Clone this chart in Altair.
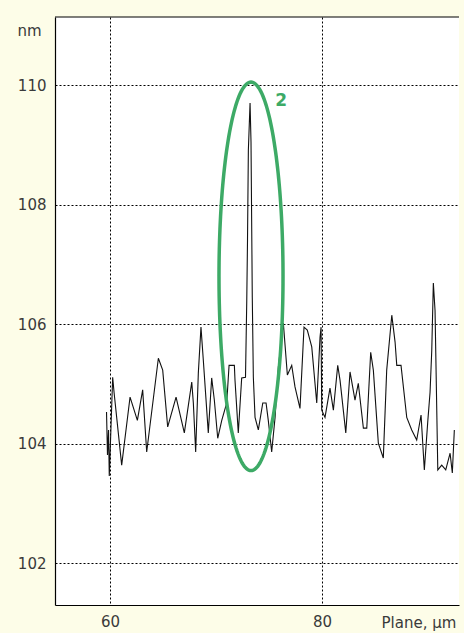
import altair as alt
import numpy as np
import pandas as pd

# Surface profile along the scan line
plane_um = [
    59.67, 59.76, 59.86, 59.93, 60.05, 60.25, 60.38, 61.10, 61.89, 62.58,
    63.08, 63.46, 64.56, 64.97, 65.44, 66.23, 67.01, 67.71, 67.86, 68.08,
    68.33, 68.58, 68.80, 69.27, 69.59, 69.84, 70.16, 70.54, 71.01, 71.23,
    71.73, 71.79, 72.10, 72.42, 72.78, 72.90, 72.97, 73.05, 73.21, 73.30,
    73.42, 73.52, 73.68, 73.99, 74.41, 74.72, 74.93, 75.25, 75.57, 75.88,
    76.35, 76.73, 77.14, 77.45, 77.92, 78.30, 78.61, 79.03, 79.50, 79.81,
    79.91, 79.97, 80.28, 80.75, 81.07, 81.48, 81.70, 82.24, 82.64, 83.11,
    83.42, 83.90, 84.22, 84.59, 84.84, 85.31, 85.78, 86.10, 86.58, 86.89,
    87.05, 87.45, 87.99, 88.46, 88.93, 89.34, 89.65, 89.97, 90.19, 90.35,
    90.50, 90.66, 90.92, 91.29, 91.67, 92.08, 92.29, 92.48,
]
height_nm = [
    104.53, 103.81, 104.23, 103.46, 104.06, 105.11, 104.86, 103.64, 104.78, 104.39,
    104.90, 103.86, 105.43, 105.23, 104.28, 104.78, 104.18, 105.03, 104.68, 103.86,
    105.18, 105.95, 105.40, 104.18, 105.10, 104.73, 104.09, 104.39, 104.68, 105.31,
    105.31, 105.06, 104.18, 105.10, 105.11, 106.40, 107.41, 108.91, 109.70, 109.05,
    106.45, 105.11, 104.44, 104.23, 104.68, 104.68, 104.39, 103.86, 104.44, 105.28,
    106.02, 105.15, 105.31, 104.95, 104.59, 105.95, 105.90, 105.62, 104.68, 105.78,
    105.95, 104.56, 104.44, 104.93, 104.56, 105.31, 105.06, 104.18, 105.20, 104.73,
    105.01, 104.26, 104.26, 105.53, 105.23, 104.01, 103.76, 105.23, 106.15, 105.70,
    105.31, 105.31, 104.44, 104.23, 104.06, 104.48, 103.56, 104.36, 104.86, 105.56,
    106.69, 106.23, 103.56, 103.64, 103.56, 103.84, 103.51, 104.23,
]

x_ticks = [60, 80]
y_ticks = [102, 104, 106, 108, 110]
x_domain = [54.81, 92.92]
y_domain = [101.30, 111.14]

# Highlight ellipse around feature "2"
ell_cx, ell_cy, ell_rx, ell_ry = 73.30, 106.80, 3.02, 3.25
ell_label = "2"
ell_label_pos = (76.15, 109.73)

W, H = 404, 588
FONT = "DejaVu Sans"
TEXT = "#3a3a3a"
GREEN = "#3daa66"

profile = pd.DataFrame({"x": plane_um, "y": height_nm})
t = np.linspace(0, 2 * np.pi, 181)
ellipse = pd.DataFrame({
    "x": ell_cx + ell_rx * np.cos(t),
    "y": ell_cy + ell_ry * np.sin(t),
    "i": np.arange(len(t)),
})

xs = alt.Scale(domain=x_domain, nice=False, zero=False)
ys = alt.Scale(domain=y_domain, nice=False, zero=False)

x_axis = alt.Axis(
    values=x_ticks, format="d", grid=True, gridColor="black", gridDash=[2, 2],
    gridWidth=1, domainColor="black", domainWidth=1.2, ticks=False, labelPadding=9,
    labelFont=FONT, labelFontSize=15, labelColor=TEXT,
    title="Plane, µm", titleFont=FONT, titleFontSize=15, titleFontWeight="normal",
    titleColor=TEXT, titleAlign="left", titleBaseline="middle",
    titleAnchor="start", titleX=326, titleY=17,
)
y_axis = alt.Axis(
    values=y_ticks, format="d", grid=True, gridColor="black", gridDash=[2, 2],
    gridWidth=1, domainColor="black", domainWidth=1.2, ticks=False, labelPadding=9,
    labelFont=FONT, labelFontSize=15, labelColor=TEXT,
    title="nm", titleFont=FONT, titleFontSize=15, titleFontWeight="normal",
    titleColor=TEXT, titleAngle=0, titleAlign="left", titleBaseline="middle",
    titleX=-38, titleY=13,
)

line = alt.Chart(profile).mark_line(color="#111111", strokeWidth=1.1).encode(
    x=alt.X("x:Q", scale=xs, axis=x_axis),
    y=alt.Y("y:Q", scale=ys, axis=y_axis),
)

top_border = alt.Chart(pd.DataFrame({"y": [y_domain[1]]})).mark_rule(
    color="black", strokeWidth=1.2
).encode(
    y=alt.Y("y:Q", scale=ys),
    x=alt.value(0), x2=alt.value(W),
)

ring = alt.Chart(ellipse).mark_line(color=GREEN, strokeWidth=3.5).encode(
    x=alt.X("x:Q", scale=xs),
    y=alt.Y("y:Q", scale=ys),
    order="i:Q",
)

label = alt.Chart(pd.DataFrame({
    "x": [ell_label_pos[0]], "y": [ell_label_pos[1]], "t": [ell_label]
})).mark_text(
    color=GREEN, font=FONT, fontSize=17, fontWeight="bold", align="center",
    baseline="middle",
).encode(
    x=alt.X("x:Q", scale=xs),
    y=alt.Y("y:Q", scale=ys),
    text="t:N",
)

chart = alt.layer(line, top_border, ring, label).properties(
    width=W, height=H,
    background="#fdfde8",
    padding={"left": 55, "top": 17, "right": 5, "bottom": 28},
    autosize=alt.AutoSizeParams(type="none"),
).configure_view(fill="white", stroke=None)

chart.save("out.html", embed_options={"renderer": "svg", "actions": False})
